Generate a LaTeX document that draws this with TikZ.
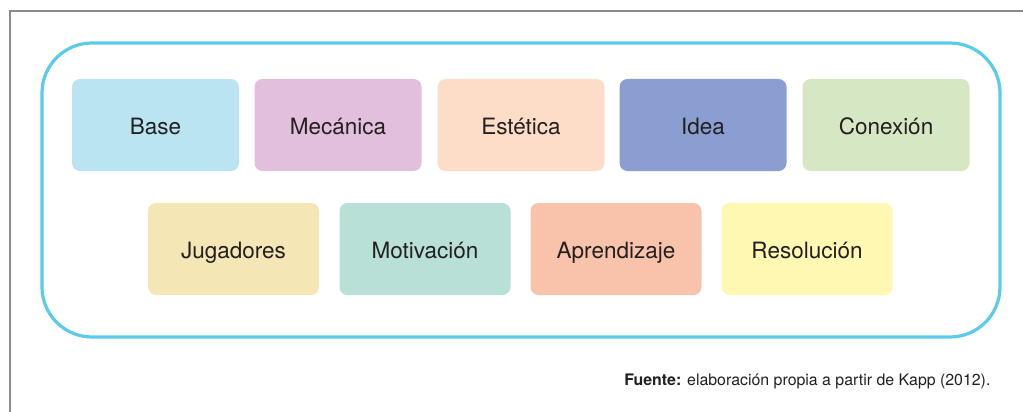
\documentclass[tikz,border=0pt]{standalone}
\usepackage{fontspec}
\setmainfont{TeX Gyre Heros}
\usetikzlibrary{positioning}
\definecolor{FrameGray}{HTML}{8C8C8C}
\definecolor{RimBlue}{HTML}{5BCBEB}
\definecolor{TxtDark}{HTML}{231F20}
\definecolor{CBase}{HTML}{BBE4F2}
\definecolor{CMecanica}{HTML}{E2BFDD}
\definecolor{CEstetica}{HTML}{FDDDC8}
\definecolor{CIdea}{HTML}{8B9ED1}
\definecolor{CConexion}{HTML}{D5E8C3}
\definecolor{CJugadores}{HTML}{F5E6B6}
\definecolor{CMotivacion}{HTML}{B8E0D6}
\definecolor{CAprendizaje}{HTML}{F9C3AB}
\definecolor{CResolucion}{HTML}{FEF8B2}
\tikzset{
    element/.style = {rectangle, rounded corners=8pt,
        minimum height=92pt,
        minimum width=167pt,
        inner sep=0pt,
        text height=18pt, text depth=0pt,
        text=TxtDark,
        font=\fontsize{22.5}{26}\selectfont},
    wide/.style = {element, minimum width=171pt},
    rim/.style = {draw=RimBlue, line width=3.2pt, rounded corners=50pt}
}
\begin{document}
\begin{tikzpicture}[x=1pt,y=-1pt]
                \useasboundingbox (0,0) rectangle (1023,412);
                \draw[FrameGray, line width=1.4pt] (10,412) -- (10,11) -- (1023,11);
                \draw[rim] (42,43) rectangle (1000,337);
                % first row
                \node[element, fill=CBase] (base) at (155.5,125) {Base};
                \node[element, fill=CMecanica] (mecanica) at (338,125) {Mecánica};
                \node[element, fill=CEstetica] (estetica) at (521,125) {Estética};
                \node[element, fill=CIdea] (idea) at (703,125) {Idea};
                \node[element, fill=CConexion] (conexion) at (886,125) {Conexión};
                % second row
                \node[wide, fill=CJugadores] (jugadores) at (233.5,249) {Jugadores};
                \node[wide, fill=CMotivacion] (motivacion) at (425,249) {Motivación};
                \node[wide, fill=CAprendizaje] (aprendizaje) at (616,249) {Aprendizaje};
                \node[wide, fill=CResolucion] (resolucion) at (807,249) {Resolución};
                \node[anchor=east, text=TxtDark, font=\fontsize{15.9}{18}\selectfont] (fuente) at (994,381)
                    {\textbf{Fuente:} elaboración propia a partir de Kapp (2012).};
            \end{tikzpicture}
\end{document}
